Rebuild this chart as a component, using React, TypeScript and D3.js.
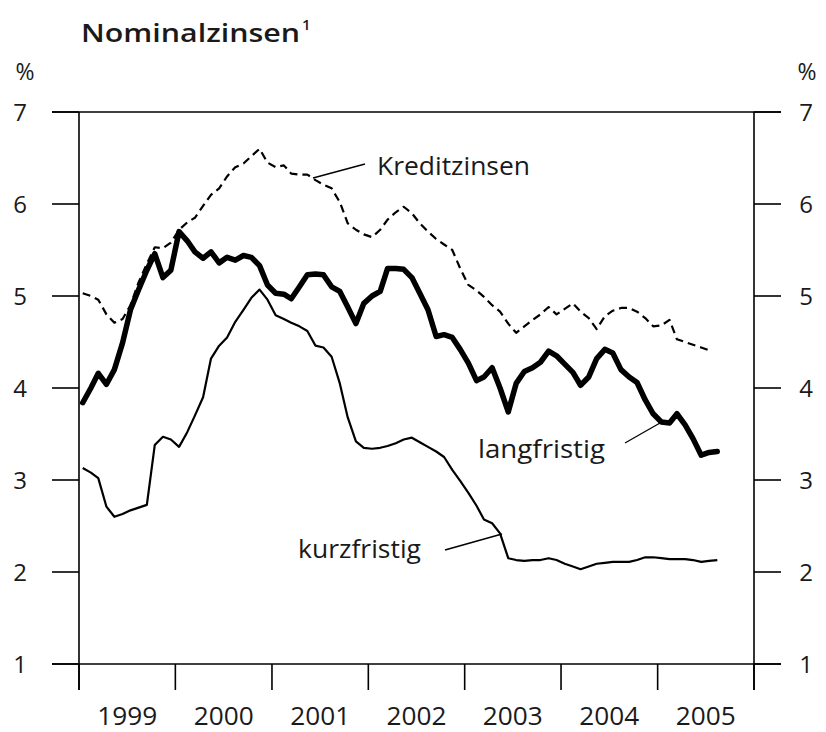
import React from "react";
import * as d3 from "d3";

// Monthly values, Jan 1999 onwards
const START_YEAR = 1999;
const langfristig = [
  3.84, 4.0, 4.16, 4.04, 4.2, 4.49, 4.85, 5.07, 5.28, 5.46, 5.2, 5.28,
  5.7, 5.6, 5.48, 5.41, 5.48, 5.36, 5.42, 5.39, 5.44, 5.42, 5.33, 5.12,
  5.03, 5.02, 4.97, 5.1, 5.23, 5.24, 5.23, 5.1, 5.05, 4.88, 4.7, 4.92,
  5.0, 5.05, 5.3, 5.3, 5.29, 5.2, 5.03, 4.85, 4.56, 4.58, 4.55, 4.42,
  4.27, 4.08, 4.12, 4.22, 4.0, 3.74, 4.05, 4.18, 4.22, 4.28, 4.4, 4.35,
  4.26, 4.17, 4.03, 4.12, 4.32, 4.42, 4.38, 4.2, 4.12, 4.06, 3.87, 3.72,
  3.63, 3.62, 3.72, 3.6, 3.45, 3.27, 3.3, 3.31,
];
const kreditzinsen = [
  5.03, 5.0, 4.96, 4.8, 4.71, 4.75, 4.9, 5.15, 5.35, 5.53, 5.52, 5.58,
  5.72, 5.8, 5.85, 5.98, 6.1, 6.17, 6.3, 6.4, 6.44, 6.52, 6.6, 6.45,
  6.4, 6.42, 6.33, 6.32, 6.32, 6.26, 6.21, 6.17, 6.02, 5.79, 5.72, 5.67,
  5.64, 5.72, 5.83, 5.91, 5.97, 5.9, 5.79, 5.7, 5.62, 5.56, 5.5, 5.3,
  5.12, 5.06, 4.99, 4.9, 4.83, 4.7, 4.6, 4.67, 4.74, 4.8, 4.88, 4.8,
  4.86, 4.92, 4.83, 4.76, 4.64, 4.78, 4.84, 4.87, 4.87, 4.83, 4.76, 4.67,
  4.68, 4.74, 4.53, 4.5, 4.47, 4.44, 4.41,
];
const kurzfristig = [
  3.13, 3.08, 3.02, 2.71, 2.6, 2.63, 2.67, 2.7, 2.73, 3.38, 3.47, 3.44,
  3.36, 3.52, 3.7, 3.9, 4.32, 4.46, 4.55, 4.72, 4.85, 4.98, 5.07, 4.96,
  4.79, 4.75, 4.71, 4.67, 4.62, 4.46, 4.44, 4.34, 4.05, 3.68, 3.42, 3.35,
  3.34, 3.35, 3.37, 3.4, 3.44, 3.46, 3.41, 3.36, 3.31, 3.25, 3.11, 2.99,
  2.86, 2.72, 2.57, 2.53, 2.42, 2.15, 2.13, 2.12, 2.13, 2.13, 2.15, 2.13,
  2.09, 2.06, 2.03, 2.06, 2.09, 2.1, 2.11, 2.11, 2.11, 2.13, 2.16, 2.16,
  2.15, 2.14, 2.14, 2.14, 2.13, 2.11, 2.12, 2.13,
];
const yTicks = [1, 2, 3, 4, 5, 6, 7];
const yearLabels = ["1999", "2000", "2001", "2002", "2003", "2004", "2005"];

const FONT = "'Open Sans', 'DejaVu Sans', sans-serif";
const TEXT = "#1a1a1a";

export default function App() {
  const W = 826, H = 732;
  const x = d3.scaleTime()
    .domain([new Date(1999, 0, 1), new Date(2006, 0, 1)])
    .range([79, 754]);
  const y = d3.scaleLinear().domain([1, 7]).range([664, 112]);
  const dateOf = (i: number) => new Date(START_YEAR, i, 15);
  const line = d3.line<number>()
    .x((_, i) => x(dateOf(i)))
    .y((d) => y(d))
    .curve(d3.curveLinear);

  const left = x.range()[0];
  const right = x.range()[1];
  const top = y(7);
  const bottom = y(1);
  const tickOut = 27;
  const yearBounds = d3.range(0, 8).map((k) => new Date(START_YEAR + k, 0, 1));

  return (
    <svg width={W} height={H} style={{ position: "absolute", left: 0, top: 0, background: "#fff" }}>
      <rect x={0} y={0} width={W} height={H} fill="#fff" />
      {/* Title */}
      <text x={81} y={42} fontFamily={FONT} fontSize={26} fontWeight={600} fill={TEXT}
        textLength={219} lengthAdjust="spacingAndGlyphs">Nominalzinsen</text>
      <text x={302} y={30} fontFamily={FONT} fontSize={15} fontWeight={600} fill={TEXT}>1</text>
      {/* % units */}
      <text x={25} y={80} fontFamily={FONT} fontSize={23} fill={TEXT} textAnchor="middle">%</text>
      <text x={807} y={80} fontFamily={FONT} fontSize={23} fill={TEXT} textAnchor="middle">%</text>

      {/* frame lines */}
      <line x1={left - tickOut} x2={right + tickOut} y1={top} y2={top} stroke="#000" strokeWidth={1.6} />
      <line x1={left - tickOut} x2={right + tickOut} y1={bottom} y2={bottom} stroke="#000" strokeWidth={1.6} />
      <line x1={left} x2={left} y1={top} y2={bottom + 26} stroke="#000" strokeWidth={1.6} />
      <line x1={right} x2={right} y1={top} y2={bottom + 26} stroke="#000" strokeWidth={1.6} />

      {/* y ticks */}
      {yTicks.map((t) => (
        <g key={t}>
          <line x1={left - tickOut} x2={left} y1={y(t)} y2={y(t)} stroke="#000" strokeWidth={1.6} />
          <line x1={right} x2={right + tickOut} y1={y(t)} y2={y(t)} stroke="#000" strokeWidth={1.6} />
          <text x={20} y={y(t) + 9} fontFamily={FONT} fontSize={24} fill={TEXT} textAnchor="middle">{t}</text>
          <text x={806} y={y(t) + 9} fontFamily={FONT} fontSize={24} fill={TEXT} textAnchor="middle">{t}</text>
        </g>
      ))}

      {/* x ticks */}
      {yearBounds.map((d, k) => (
        <line key={k} x1={x(d)} x2={x(d)} y1={bottom} y2={bottom + 26} stroke="#000" strokeWidth={1.6} />
      ))}
      {yearLabels.map((lab, k) => {
        const mid = (x(yearBounds[k]) + x(yearBounds[k + 1])) / 2;
        return (
          <text key={lab} x={mid} y={725} fontFamily={FONT} fontSize={25} fill={TEXT} textAnchor="middle"
            textLength={60} lengthAdjust="spacingAndGlyphs">{lab}</text>
        );
      })}

      {/* series */}
      <path d={line(kurzfristig) || ""} fill="none" stroke="#000" strokeWidth={2.2} strokeLinejoin="round" />
      <path d={line(kreditzinsen) || ""} fill="none" stroke="#000" strokeWidth={2.2} strokeDasharray="8,5" strokeLinejoin="round" />
      <path d={line(langfristig) || ""} fill="none" stroke="#000" strokeWidth={5.5} strokeLinejoin="round" strokeLinecap="round" />

      {/* labels with leaders */}
      <line x1={313} y1={178} x2={365} y2={164} stroke="#000" strokeWidth={1.3} />
      <text x={377} y={175} fontFamily={FONT} fontSize={26} fill={TEXT}
        textLength={153} lengthAdjust="spacingAndGlyphs">Kreditzinsen</text>

      <line x1={625} y1={443} x2={660} y2={423} stroke="#000" strokeWidth={1.3} />
      <text x={478} y={458} fontFamily={FONT} fontSize={26} fill={TEXT}
        textLength={127} lengthAdjust="spacingAndGlyphs">langfristig</text>

      <line x1={445} y1={550} x2={502} y2={534} stroke="#000" strokeWidth={1.3} />
      <text x={298} y={558} fontFamily={FONT} fontSize={26} fill={TEXT}
        textLength={123} lengthAdjust="spacingAndGlyphs">kurzfristig</text>
    </svg>
  );
}
